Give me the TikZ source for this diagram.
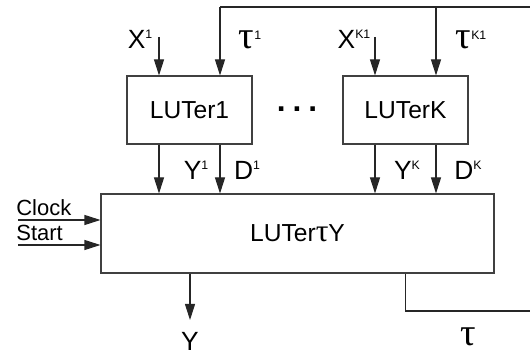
\documentclass[tikz,border=0pt]{standalone}
\usepackage{fontspec}
\setmainfont{Liberation Sans}
\newfontfamily\taufont{Liberation Serif}
\usetikzlibrary{arrows.meta,positioning,calc}
\newcommand{\upidx}[1]{\raisebox{5.4pt}{\normalfont\fontsize{7}{7}\selectfont #1}}

\begin{document}
\begin{tikzpicture}[
    lut/.style={rectangle, draw=black!75, line width=0.6pt, minimum width=2.5cm,
                minimum height=1.36cm, inner sep=0pt, font=\fontsize{14}{14}\selectfont},
    arrow/.style={-{Triangle[length=0.32cm,width=0.2cm]}, line width=0.6pt, black!85},
    wire/.style={line width=0.6pt, black!85},
    lbl/.style={inner sep=0pt, font=\fontsize{15}{15}\selectfont},
    ctl/.style={inner sep=0pt, anchor=west, font=\fontsize{12.5}{12.5}\selectfont},
    tau/.style={inner sep=0pt, font=\taufont\fontsize{22}{22}\selectfont}]

\useasboundingbox (0,0) rectangle (10.6,7.14);

% Blocks
\node[lut] (L1) at (3.79,4.94) {LUTer1};
\node[lut] (LK) at (8.11,4.94) {LUTerK};
\node[lut, minimum width=7.86cm, minimum height=1.58cm] (LY) at (5.95,2.47)
    {LUTer{\taufont\fontsize{18}{18}\selectfont τ}Y};
\node[inner sep=0pt, font=\bfseries\fontsize{18}{18}\selectfont] (dots) at (5.94,4.96)
    {.\hspace{4pt}.\hspace{4pt}.};

% Free ends
\coordinate (x1) at (3.18,6.40);
\coordinate (xk) at (7.50,6.40);
\coordinate (top1) at (4.40,7.00);
\coordinate (topk) at (8.72,7.00);
\coordinate (topR) at (10.6,7.00);
\coordinate (botR) at (10.6,0.92);
\coordinate (clk) at (0.36,2.74);
\coordinate (st) at (0.36,2.24);
\coordinate (yout) at (3.80,0.74);

% Inputs
\draw[arrow] (x1) -- (x1 |- L1.north);
\draw[arrow] (xk) -- (xk |- LK.north);
\draw[wire] (topR) -- (top1);
\draw[arrow] (top1) -- (top1 |- L1.north);
\draw[arrow] (topk) -- (topk |- LK.north);

% Outputs
\draw[arrow] (x1 |- L1.south) -- (x1 |- LY.north);
\draw[arrow] (top1 |- L1.south) -- (top1 |- LY.north);
\draw[arrow] (xk |- LK.south) -- (xk |- LY.north);
\draw[arrow] (topk |- LK.south) -- (topk |- LY.north);
\draw[arrow] (clk) -- (clk -| LY.west);
\draw[arrow] (st) -- (st -| LY.west);
\draw[arrow] (yout |- LY.south) -- (yout);
\draw[wire] (LK.south |- LY.south) |- (botR);

% Labels
\node[lbl] (lx1) at (2.80,6.36) {X\upidx{1}};
\node[tau] (lt1) at (5.00,6.34) {τ\upidx{1}};
\node[lbl] (lxk) at (7.08,6.36) {X\upidx{K1}};
\node[tau] (ltk) at (9.42,6.34) {τ\upidx{K1}};
\node[lbl] (ly1) at (3.92,3.74) {Y\upidx{1}};
\node[lbl] (ld1) at (4.94,3.74) {D\upidx{1}};
\node[lbl] (lyk) at (8.14,3.74) {Y\upidx{K}};
\node[lbl] (ldk) at (9.36,3.74) {D\upidx{K}};
\node[ctl] (lclk) at (0.32,2.98) {Clock};
\node[ctl] (lst) at (0.32,2.49) {Start};
\node[lbl] (ly) at (3.80,0.32) {Y};
\node[tau] (lt) at (9.36,0.40) {τ};
\end{tikzpicture}
\end{document}
